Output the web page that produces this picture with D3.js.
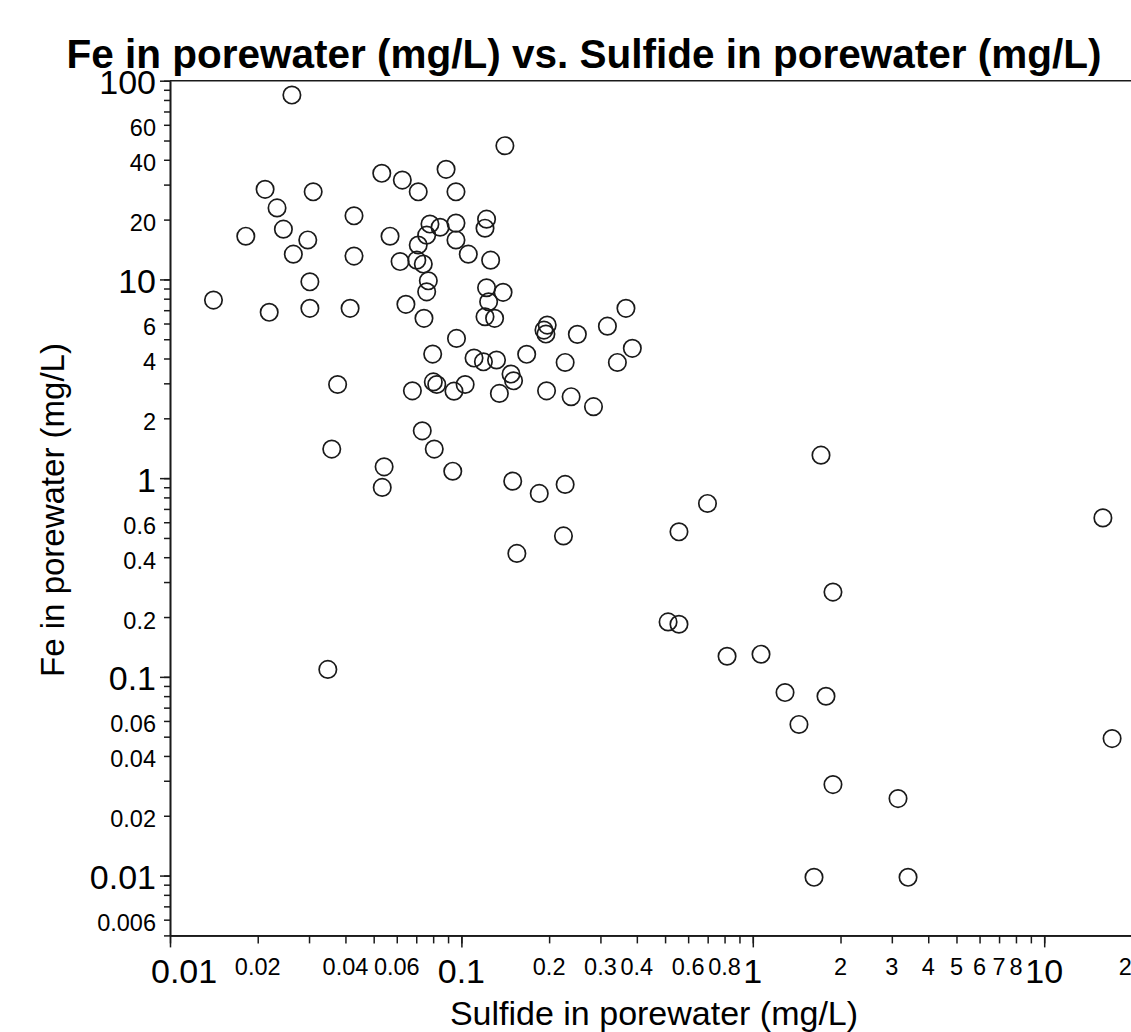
<!DOCTYPE html>
<html><head><meta charset="utf-8">
<script src="https://cdn.jsdelivr.net/npm/d3@7"></script>
<style>
body{margin:0;background:#fff}
svg{display:block}
text{font-family:"Liberation Sans",Arial,sans-serif;fill:#000}
</style>
</head><body>
<svg id="chart" width="1131" height="1032"></svg>
<script>
// ---- data (mg/L) ----
const sulfide = [0.0262,0.141,0.0533,0.0627,0.0711,0.0886,0.0958,0.0212,0.0310,0.0233,
  0.0428,0.0182,0.0245,0.0297,0.0265,0.0428,0.0569,0.0780,0.0845,0.0760,
  0.0711,0.0958,0.0958,0.122,0.1205,0.1056,0.126,0.0616,0.0703,0.0740,
  0.0770,0.0760,0.0302,0.0141,0.0219,0.0302,0.0415,0.0645,0.0744,0.122,
  0.139,0.124,0.1205,0.130,0.197,0.192,0.195,0.0962,0.0797,0.1105,
  0.119,0.132,0.1675,0.227,0.148,0.151,0.0376,0.0679,0.0801,0.0823,
  0.0943,0.103,0.135,0.196,0.250,0.317,0.367,0.386,0.343,0.238,
  0.284,0.0734,0.0359,0.0807,0.0543,0.0535,0.0934,0.150,0.185,0.227,
  0.224,0.155,0.0348,1.714,0.699,0.558,15.9,1.884,0.512,0.558,
  0.816,1.067,1.290,1.783,1.440,17.1,1.884,3.15,1.622,3.41];
const fe = [84.7,47.1,34.2,31.6,27.6,35.8,27.6,28.4,27.6,22.9,
  20.9,16.5,17.9,15.8,13.4,13.1,16.5,19.0,18.3,16.7,
  14.9,19.2,15.8,20.1,18.1,13.4,12.5,12.3,12.5,11.95,
  9.84,8.66,9.73,7.87,6.83,7.15,7.15,7.49,6.37,9.08,
  8.61,7.72,6.49,6.37,5.89,5.56,5.31,5.05,4.21,4.02,
  3.85,3.93,4.20,3.82,3.34,3.09,2.96,2.75,3.05,2.96,
  2.74,2.96,2.67,2.75,5.29,5.82,7.15,4.50,3.82,2.57,
  2.29,1.73,1.40,1.40,1.14,0.898,1.084,0.966,0.838,0.930,
  0.512,0.418,0.109,1.305,0.746,0.537,0.631,0.267,0.189,0.184,
  0.127,0.130,0.0834,0.0799,0.0576,0.0489,0.0287,0.0244,0.0098,0.0098];

const xMajorTicks = [0.01, 0.1, 1, 10];
const xMajorLabels = ["0.01", "0.1", "1", "10"];
const xMinorTicks = [0.02, 0.04, 0.06, 0.2, 0.3, 0.4, 0.6, 0.8, 2, 3, 4, 5, 6, 7, 8, 20];
const xMinorLabels = ["0.02", "0.04", "0.06", "0.2", "0.3", "0.4", "0.6", "0.8", "2", "3", "4", "5", "6", "7", "8", "20"];
const yMajorTicks = [100, 10, 1, 0.1, 0.01];
const yMajorLabels = ["100", "10", "1", "0.1", "0.01"];
const yMinorTicks = [60, 40, 20, 6, 4, 2, 0.6, 0.4, 0.2, 0.06, 0.04, 0.02, 0.006];
const yMinorLabels = ["60", "40", "20", "6", "4", "2", "0.6", "0.4", "0.2", "0.06", "0.04", "0.02", "0.006"];

const titleText = "Fe in porewater (mg/L) vs. Sulfide in porewater (mg/L)";
const xTitleText = "Sulfide in porewater (mg/L)";
const yTitleText = "Fe in porewater (mg/L)";

(function draw() {
  const svg = d3.select("#chart");
  const plotLeft = 170, plotTop = 80.7, plotBottom = 935.4, decadeX = 291.4;
  const x = d3.scaleLog().domain([0.01, 100]).range([plotLeft, plotLeft + 4 * decadeX]);
  const y = d3.scaleLog().domain([0.005, 100]).range([plotBottom, plotTop]);
  const ink = "#1a1a1a";

  // top frame line
  svg.append("line").attr("x1", plotLeft).attr("x2", 1131).attr("y1", plotTop).attr("y2", plotTop)
    .attr("stroke", ink).attr("stroke-width", 1.6);

  const gxMinor = svg.append("g").attr("transform", `translate(0,${plotBottom})`)
    .call(d3.axisBottom(x).tickValues(x.ticks()).tickSize(8).tickSizeOuter(0).tickFormat(""));
  const gxMajor = svg.append("g").attr("transform", `translate(0,${plotBottom})`)
    .call(d3.axisBottom(x).tickValues(xMajorTicks).tickSize(12).tickSizeOuter(0).tickFormat(""));
  const gyMinor = svg.append("g").attr("transform", `translate(${plotLeft},0)`)
    .call(d3.axisLeft(y).tickValues(y.ticks()).tickSize(6).tickSizeOuter(0).tickFormat(""));
  const gyMajor = svg.append("g").attr("transform", `translate(${plotLeft},0)`)
    .call(d3.axisLeft(y).tickValues(yMajorTicks).tickSize(10).tickSizeOuter(0).tickFormat(""));
  [gxMinor, gxMajor, gyMinor, gyMajor].forEach(g => {
    g.selectAll("path.domain").attr("stroke", ink).attr("stroke-width", 1.6);
    g.selectAll(".tick line").attr("stroke", ink).attr("stroke-width", 1.5);
  });

  function xLabel(v, s, size, base) {
    const t = svg.append("text").attr("x", x(v)).attr("y", base)
      .attr("text-anchor", "middle").attr("font-size", size).text(s);
    const w = t.node().getComputedTextLength();
    if (x(v) - w / 2 < 151) t.attr("x", 151 + w / 2);
  }
  xMajorTicks.forEach((v, i) => xLabel(v, xMajorLabels[i], 34, 983));
  xMinorTicks.forEach((v, i) => xLabel(v, xMinorLabels[i], 23.5, 975));

  yMajorTicks.forEach((v, i) => svg.append("text").attr("x", 156).attr("y", y(v) + 13.5)
    .attr("text-anchor", "end").attr("font-size", 34).text(yMajorLabels[i]));
  yMinorTicks.forEach((v, i) => svg.append("text").attr("x", 156).attr("y", y(v) + 11.5)
    .attr("text-anchor", "end").attr("font-size", 23.5).text(yMinorLabels[i]));

  svg.append("text").attr("x", 584).attr("y", 68).attr("text-anchor", "middle")
    .attr("font-size", 40.5).attr("font-weight", "bold").text(titleText);
  svg.append("text").attr("x", 654).attr("y", 1025).attr("text-anchor", "middle")
    .attr("font-size", 34).text(xTitleText);
  svg.append("text").attr("transform", "translate(64,510) rotate(-90)")
    .attr("text-anchor", "middle").attr("font-size", 33).text(yTitleText);

  const pts = sulfide.map((s, i) => ({s, f: fe[i]}));
  svg.append("g").selectAll("circle").data(pts).join("circle")
    .attr("cx", d => x(d.s)).attr("cy", d => y(d.f)).attr("r", 8.7)
    .attr("fill", "none").attr("stroke", ink).attr("stroke-width", 1.7);
})();
</script>
</body></html>
